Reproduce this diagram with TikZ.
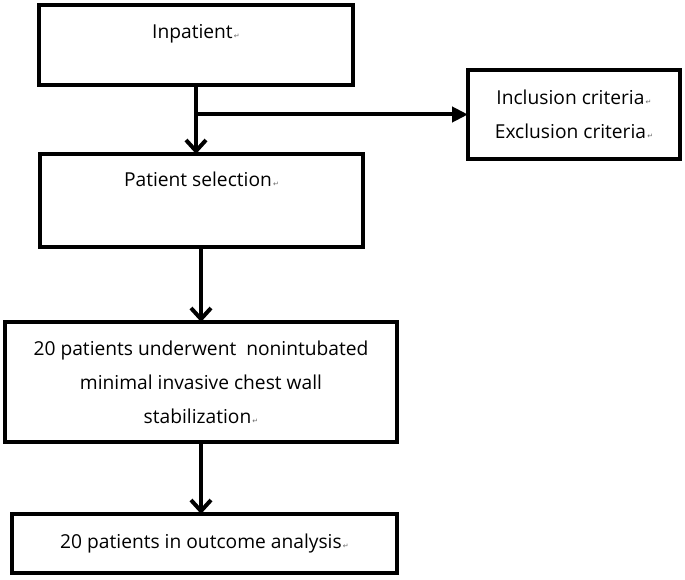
\documentclass[tikz,border=0pt]{standalone}
\usepackage{fontspec}
\setmainfont{Open Sans}
\newfontfamily\retfont{DejaVu Sans}
\usetikzlibrary{positioning,arrows.meta}
\newcommand{\retmark}{{\retfont\fontsize{7}{7}\selectfont\color{black!60}\,↵}}

\begin{document}
\begin{tikzpicture}
			[x=1pt,y=1pt,
			box/.style={draw,line width=4pt,inner sep=0pt,outer sep=0pt,align=center,
				font=\fontsize{19.2}{34}\selectfont},
			flow/.style={line width=4pt,-{Straight Barb[length=11pt,width=20pt]}},
			branch/.style={line width=4pt,-{Triangle[length=16pt,width=15pt]}}]
			\useasboundingbox (0,0) rectangle (685,-580);
			\node[box,anchor=north west,minimum width=314pt,
				text height=34pt,text depth=46pt] (inpat) at (39,-5) {Inpatient\retmark};
			\node[box,below right=69pt and 1pt of inpat.south west,minimum width=323pt,
				text height=33pt,text depth=60pt] (select) {Patient selection\retmark};
			\node[box,below right=65pt and 115pt of inpat.north east,
				minimum width=212pt,minimum height=89pt] (crit)
				{Inclusion criteria\retmark\\Exclusion criteria\retmark};
			\node[box,below=75pt of select.south west,anchor=north west,xshift=-35pt,
				minimum width=392pt,minimum height=120pt] (treat)
				{20 patients underwent~ nonintubated\\minimal invasive chest wall\\stabilization\retmark};
			\node[box,below right=72pt and 7pt of treat.south west,
				minimum width=385pt,minimum height=59pt] (outcome)
				{20 patients in outcome analysis\retmark};
			\coordinate (split) at (inpat.south |- crit.west);
			\draw[flow] (inpat.south) -- (inpat.south |- select.north);
			\draw[branch] (split) -- (crit.west);
			\draw[flow] (treat.north |- select.south) -- (treat.north);
			\draw[flow] (treat.south) -- (treat.south |- outcome.north);
		\end{tikzpicture}
\end{document}
